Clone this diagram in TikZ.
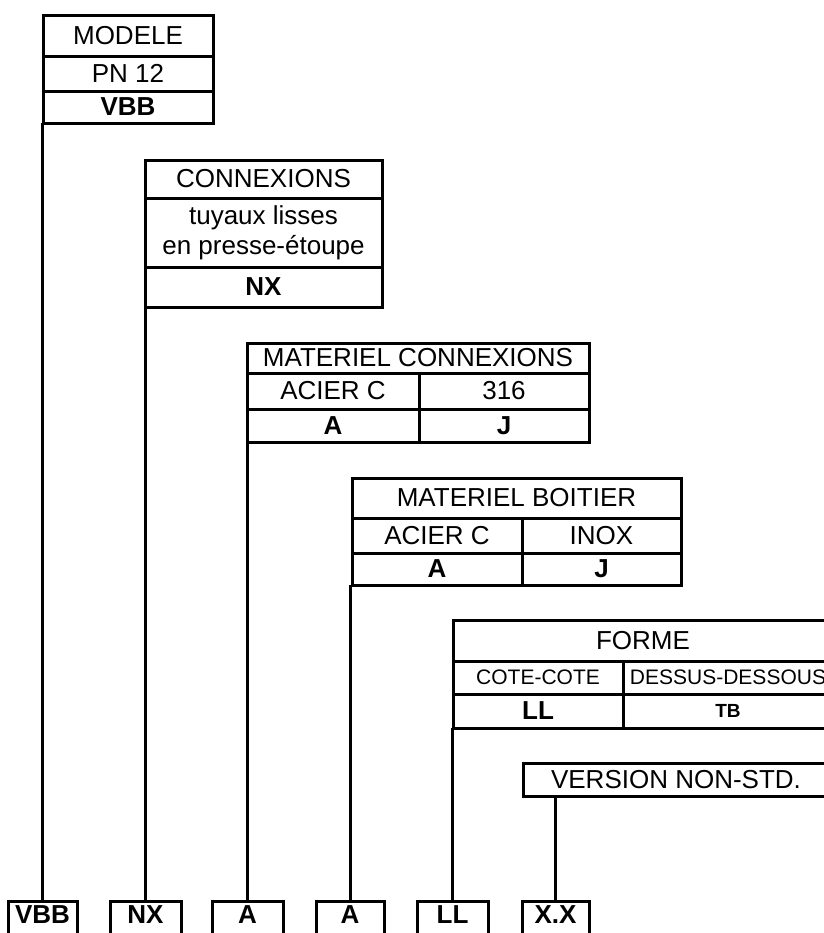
\documentclass[tikz,border=0pt]{standalone}
\usepackage{fontspec}
\setmainfont{Liberation Sans}
\usetikzlibrary{positioning}

\begin{document}
\begin{tikzpicture}[x=.5pt,y=-.5pt,
  cell/.style={draw,line width=1.5pt,inner sep=0pt,outer sep=0pt,align=center,font=\fontsize{13}{15}\selectfont},
  code/.style={cell,font=\fontsize{13}{15}\selectfont\bfseries},
  outbox/.style={code,minimum height=18pt,text depth=4pt},
  link/.style={line width=1.5pt}]
\clip (0,0) rectangle (824,933);
%\draw[help lines] (0,0) grid[step=50] (824,933);

\node[cell,minimum width=85pt,minimum height=20.5pt] (modele) at (128,35.5) {MODELE};
\node[cell,minimum width=85pt,minimum height=17.5pt,below=0pt of modele] (pn) {PN 12};
\node[code,minimum width=85pt,minimum height=16pt,below=0pt of pn] (vbb) {VBB};

\node[cell,minimum width=118.5pt,minimum height=19pt] (conn) at (263.5,179) {CONNEXIONS};
\node[cell,minimum width=118.5pt,minimum height=34.5pt,below=0pt of conn] (tuyaux) {tuyaux lisses\\en presse-étoupe};
\node[code,minimum width=118.5pt,minimum height=20pt,below=0pt of tuyaux] (nx) {NX};

\node[cell,minimum width=171pt,minimum height=15pt] (matc) at (418,358) {MATERIEL CONNEXIONS};
\node[cell,minimum width=86pt,minimum height=18pt,below right=0pt and 0pt of matc.south west] (cacier) {ACIER C};
\node[cell,minimum width=85pt,minimum height=18pt,right=0pt of cacier] (c316) {316};
\node[code,minimum width=86pt,minimum height=16.5pt,below=0pt of cacier] (ca) {A};
\node[code,minimum width=85pt,minimum height=16.5pt,below=0pt of c316] (cj) {J};

\node[cell,minimum width=164.5pt,minimum height=20pt] (matb) at (516.5,498) {MATERIEL BOITIER};
\node[cell,minimum width=85pt,minimum height=17.5pt,below right=0pt and 0pt of matb.south west] (bacier) {ACIER C};
\node[cell,minimum width=79.5pt,minimum height=17.5pt,right=0pt of bacier] (binox) {INOX};
\node[code,minimum width=85pt,minimum height=16pt,below=0pt of bacier] (ba) {A};
\node[code,minimum width=79.5pt,minimum height=16pt,below=0pt of binox] (bj) {J};

\node[cell,minimum width=190pt,minimum height=20.5pt] (forme) at (643,640.5) {FORME};
\node[cell,minimum width=85pt,minimum height=16.5pt,font=\fontsize{10.5}{12}\selectfont,below right=0pt and 0pt of forme.south west] (fcote) {COTE-COTE};
\node[cell,minimum width=105pt,minimum height=16.5pt,font=\fontsize{10.5}{12}\selectfont,right=0pt of fcote] (fdessus) {DESSUS-DESSOUS};
\node[code,minimum width=85pt,minimum height=17pt,below=0pt of fcote] (fll) {LL};
\node[code,minimum width=105pt,minimum height=17pt,font=\fontsize{9.5}{11}\selectfont\bfseries,below=0pt of fdessus] (ftb) {TB};

\node[cell,minimum width=153pt,minimum height=16.5pt] (ver) at (676,779.5) {VERSION NON-STD.};

\node[outbox,minimum width=34.5pt] (ovbb) at (42.5,919) {VBB};
\node[outbox,minimum width=35.5pt] (onx) at (145.5,919) {NX};
\node[outbox,minimum width=35.5pt] (oa) at (247.5,919) {A};
\node[outbox,minimum width=34pt] (ob) at (350,919) {A};
\node[outbox,minimum width=35.5pt] (oll) at (452.5,919) {LL};
\node[outbox,minimum width=33.5pt] (oxx) at (555.5,919) {X.X};

\draw[link] (ovbb.north |- vbb.south) -- (ovbb.north);
\draw[link] (onx.north |- nx.south) -- (onx.north);
\draw[link] (oa.north |- ca.south) -- (oa.north);
\draw[link] (ob.north |- ba.south) -- (ob.north);
\draw[link] (oll.north |- fll.south) -- (oll.north);
\draw[link] (oxx.north |- ver.south) -- (oxx.north);

\end{tikzpicture}
\end{document}
